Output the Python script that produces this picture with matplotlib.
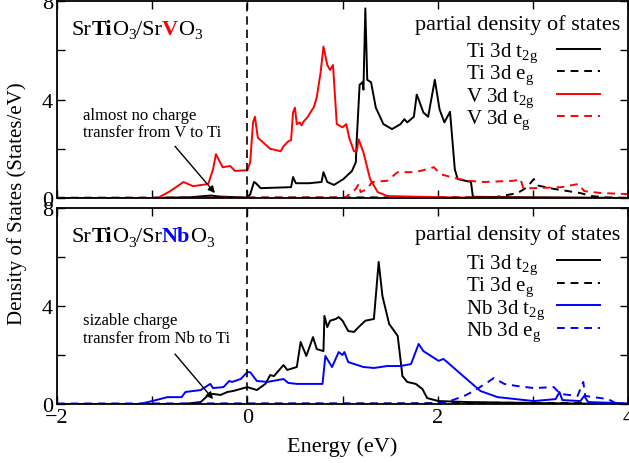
import matplotlib
matplotlib.use("Agg")
import matplotlib.pyplot as plt
from matplotlib.ticker import MultipleLocator

plt.rcParams["font.family"] = ["Liberation Serif", "DejaVu Serif"]
plt.rcParams["mathtext.fontset"] = "custom"
plt.rcParams["mathtext.rm"] = "Liberation Serif"
plt.rcParams["mathtext.it"] = "Liberation Serif:italic"
plt.rcParams["mathtext.bf"] = "Liberation Serif:bold"

# ---- SrTiO3/SrVO3 panel ----
e_ti_t2g_v = [-2, -1.0, -0.6, -0.45, -0.38, -0.3, -0.1, 0.0, 0.03, 0.07, 0.09, 0.14, 0.3, 0.46, 0.48,
              0.51, 0.65, 0.78, 0.8, 0.84, 0.91, 1.01, 1.1, 1.14, 1.15, 1.18, 1.21, 1.22, 1.24, 1.26,
              1.3, 1.35, 1.43, 1.52, 1.61, 1.65, 1.68, 1.75, 1.78, 1.8, 1.85, 1.9, 1.97, 2.02, 2.07,
              2.13, 2.18, 2.21, 2.29, 2.35, 2.37, 2.6, 3.0, 4.0]
d_ti_t2g_v = [0, 0, 0.03, 0.08, 0.1, 0.06, 0.03, 0.02, 0.15, 0.65, 0.6, 0.4, 0.42, 0.44, 0.85,
              0.6, 0.6, 0.65, 1.05, 0.65, 0.53, 0.77, 1.1, 1.45, 2.4, 4.6, 4.7, 4.4, 7.7, 4.8,
              4.7, 3.67, 3.0, 2.8, 3.0, 3.2, 3.07, 3.3, 4.2, 4.0, 3.47, 3.3, 4.8, 3.6, 3.07,
              3.5, 1.17, 0.77, 0.7, 0.65, 0.05, 0.04, 0.03, 0.0]

e_ti_eg_v = [-2, 2.6, 2.84, 2.94, 3.01, 3.06, 3.22, 3.37, 3.5, 3.61, 3.8, 4.0]
d_ti_eg_v = [0.01, 0.03, 0.2, 0.44, 0.77, 0.5, 0.37, 0.28, 0.2, 0.08, 0.02, 0.01]

e_v_t2g = [-2, -0.94, -0.81, -0.67, -0.57, -0.41, -0.36, -0.33, -0.26, -0.18, -0.13, 0.0, 0.03,
           0.06, 0.08, 0.11, 0.24, 0.35, 0.38, 0.43, 0.46, 0.48, 0.5, 0.52, 0.55, 0.57, 0.59,
           0.63, 0.7, 0.73, 0.77, 0.8, 0.84, 0.87, 0.9, 0.94, 1.0, 1.04, 1.07, 1.12, 1.15, 1.17,
           1.22, 1.29, 1.37, 1.47, 1.8, 2.2, 4.0]
d_v_t2g = [0, 0, 0.28, 0.65, 0.48, 0.57, 1.17, 1.78, 1.25, 1.3, 1.1, 1.13, 1.45,
           3.07, 3.3, 2.45, 2.0, 1.9, 2.1, 2.3, 2.35, 3.47, 3.67, 3.0, 3.07, 2.95, 3.1,
           3.27, 3.7, 4.1, 5.1, 6.15, 5.4, 5.2, 5.4, 3.0, 2.87, 3.0, 2.45, 1.9, 1.9, 2.38,
           1.85, 0.77, 0.24, 0.08, 0.05, 0.02, 0.0]

e_v_eg = [-2, 1.03, 1.14, 1.17, 1.19, 1.26, 1.31, 1.47, 1.58, 1.75, 1.82, 1.96, 2.03, 2.14, 2.31,
          2.49, 2.8, 2.87, 2.9, 3.01, 3.3, 3.48, 3.54, 3.72, 4.0]
d_v_eg = [0, 0.02, 0.37, 0.57, 0.24, 0.37, 0.65, 0.7, 1.05, 1.05, 1.1, 1.25, 0.97, 0.85, 0.7,
          0.65, 0.7, 0.77, 0.4, 0.4, 0.44, 0.57, 0.28, 0.2, 0.16]

# ---- SrTiO3/SrNbO3 panel ----
e_ti_t2g_nb = [-2, -0.67, -0.49, -0.42, -0.36, -0.28, -0.21, -0.15, 0.0, 0.1, 0.19, 0.24, 0.28,
               0.38, 0.42, 0.52, 0.56, 0.62, 0.69, 0.73, 0.8, 0.81, 0.84, 0.87, 0.93, 0.96, 1.0,
               1.06, 1.12, 1.17, 1.24, 1.33, 1.38, 1.42, 1.49, 1.58, 1.63, 1.68, 1.77, 1.84,
               1.89, 2.01, 2.31, 3.0, 4.0]
d_ti_t2g_nb = [0, 0, 0.08, 0.33, 0.41, 0.37, 0.49, 0.53, 0.69, 0.57, 0.82, 1.18, 1.14,
               1.59, 1.39, 1.51, 2.53, 1.96, 2.73, 2.24, 2.16, 3.6, 3.14, 3.4, 3.47, 3.55, 3.4,
               2.98, 2.94, 3.14, 3.4, 3.47, 5.8, 4.4, 3.27, 2.78, 1.14, 0.9, 0.82, 0.61,
               0.24, 0.12, 0.08, 0.04, 0.0]

e_ti_eg_nb = [-2, 1.5, 2.5, 3.5, 4.0]
d_ti_eg_nb = [0.0, 0.02, 0.05, 0.04, 0.02]

e_nb_t2g = [-2, -1.13, -1.0, -0.84, -0.69, -0.65, -0.57, -0.49, -0.39, -0.36, -0.25, -0.19, -0.16,
            -0.07, 0.0, 0.03, 0.1, 0.21, 0.38, 0.43, 0.52, 0.79, 0.82, 0.89, 0.96, 1.0, 1.02,
            1.06, 1.22, 1.33, 1.47, 1.61, 1.72, 1.8, 1.85, 2.01, 2.06, 2.1, 2.28, 2.45, 2.63,
            3.01, 3.24, 3.28, 3.31, 3.5, 3.54, 3.58, 3.89, 4.0]
d_nb_t2g = [0, 0, 0.12, 0.28, 0.28, 0.49, 0.53, 0.57, 0.82, 0.65, 0.69, 0.94, 0.9,
            1.02, 1.3, 1.3, 0.94, 0.9, 1.02, 0.86, 0.82, 0.82, 1.96, 1.51, 2.12, 2.0, 2.12,
            1.71, 1.51, 1.47, 1.55, 1.55, 1.63, 2.45, 2.16, 1.76, 1.84, 1.71, 1.1, 0.53, 0.28,
            0.12, 0.2, 0.49, 0.16, 0.12, 0.33, 0.08, 0.04, 0.0]

e_nb_eg = [-2, 2.0, 2.1, 2.28, 2.38, 2.53, 2.59, 2.7, 2.84, 3.01, 3.22, 3.26, 3.29, 3.47, 3.53,
           3.55, 3.64, 3.79, 3.87, 4.0]
d_nb_eg = [0.02, 0.02, 0.08, 0.33, 0.53, 0.9, 1.06, 0.82, 0.73, 0.65, 0.69, 0.53, 0.41, 0.33, 0.9,
           0.33, 0.28, 0.2, 0.04, 0.02]

labels_v = [r"Ti 3d t$_\mathrm{2g}$", r"Ti 3d e$_\mathrm{g}$",
            r"V 3d t$_\mathrm{2g}$", r"V 3d e$_\mathrm{g}$"]
labels_nb = [r"Ti 3d t$_\mathrm{2g}$", r"Ti 3d e$_\mathrm{g}$",
             r"Nb 3d t$_\mathrm{2g}$", r"Nb 3d e$_\mathrm{g}$"]

RED = "#ff0000"
BLUE = "#0000ff"
LW = 1.4
DASH = (0, (4, 3))
FS = 16

fig = plt.figure(figsize=(6.29, 4.64), dpi=100)
W, H = 629.0, 464.0
ax1 = fig.add_axes([57 / W, (H - 199) / H, 571 / W, 197 / H])
ax2 = fig.add_axes([57 / W, (H - 405) / H, 571 / W, 196 / H])


def style_axis(ax, show_xlabels):
    ax.set_xlim(-2, 4)
    ax.set_ylim(0, 8)
    ax.xaxis.set_major_locator(MultipleLocator(2))
    ax.xaxis.set_minor_locator(MultipleLocator(1))
    ax.yaxis.set_major_locator(MultipleLocator(4))
    ax.yaxis.set_minor_locator(MultipleLocator(2))
    ax.tick_params(which="both", direction="in", top=True, right=True, width=1.0,
                   labelsize=FS, pad=3, length=6)
    if not show_xlabels:
        ax.tick_params(labelbottom=False)
    for sp in ax.spines.values():
        sp.set_linewidth(1.3)
    ax.axvline(0, color="black", lw=1.2, ls=(0, (5, 3)))


def material_label(ax, pieces, x, y):
    # chain text pieces so bold/colour/subscript parts sit next to each other
    prev = None
    prev_dy = 0
    for txt, weight, color, size, dy in pieces:
        if prev is None:
            prev = ax.text(x, y, txt, transform=ax.transAxes, fontsize=size,
                           fontweight=weight, color=color, va="baseline", ha="left")
        else:
            prev = ax.annotate(txt, xy=(1, 0), xycoords=prev, xytext=(0, dy - prev_dy),
                               textcoords="offset points", fontsize=size, fontweight=weight,
                               color=color, va="bottom", ha="left")
        prev_dy = dy


# top panel
ax1.plot(e_ti_t2g_v, d_ti_t2g_v, color="black", lw=LW, label=labels_v[0])
ax1.plot(e_ti_eg_v, d_ti_eg_v, color="black", lw=LW, ls=DASH, label=labels_v[1])
ax1.plot(e_v_t2g, d_v_t2g, color=RED, lw=LW, label=labels_v[2])
ax1.plot(e_v_eg, d_v_eg, color=RED, lw=LW, ls=DASH, label=labels_v[3])
style_axis(ax1, False)

# bottom panel
ax2.plot(e_ti_t2g_nb, d_ti_t2g_nb, color="black", lw=LW, label=labels_nb[0])
ax2.plot(e_ti_eg_nb, d_ti_eg_nb, color="black", lw=LW, ls=DASH, label=labels_nb[1])
ax2.plot(e_nb_t2g, d_nb_t2g, color=BLUE, lw=LW, label=labels_nb[2])
ax2.plot(e_nb_eg, d_nb_eg, color=BLUE, lw=LW, ls=DASH, label=labels_nb[3])
style_axis(ax2, True)

legends = []
for ax, ytitle, yleg in ((ax1, 0.883, 0.80), (ax2, 0.868, 0.775)):
    ax.text(0.986, ytitle, "partial density of states", transform=ax.transAxes,
            fontsize=FS, ha="right", va="center")
    legends.append(ax.legend(loc="upper right", bbox_to_anchor=(0.951, yleg), frameon=False,
                             markerfirst=False, fontsize=15, handlelength=2.05,
                             handletextpad=1.0, labelspacing=-0.05, borderaxespad=0,
                             borderpad=0))

material_label(ax1, [("Sr", "normal", "black", FS, 0), ("Ti", "bold", "black", FS, 0),
                     ("O", "normal", "black", FS, 0), ("3", "normal", "black", 11, -2),
                     ("/Sr", "normal", "black", FS, 0), ("V", "bold", RED, FS, 0),
                     ("O", "normal", "black", FS, 0), ("3", "normal", "black", 11, -2)],
               0.026, 0.835)
material_label(ax2, [("Sr", "normal", "black", FS, 0), ("Ti", "bold", "black", FS, 0),
                     ("O", "normal", "black", FS, 0), ("3", "normal", "black", 11, -2),
                     ("/Sr", "normal", "black", FS, 0), ("Nb", "bold", BLUE, FS, 0),
                     ("O", "normal", "black", FS, 0), ("3", "normal", "black", 11, -2)],
               0.026, 0.83)

# annotations with arrows
ax1.text(-1.73, 2.34, "almost no charge\ntransfer from V to Ti", fontsize=12,
         va="bottom", ha="left", linespacing=1.15)
ax1.annotate("", xy=(-0.34, 0.2), xytext=(-0.76, 2.1),
             arrowprops=dict(arrowstyle="-|>", color="black", lw=1.0,
                             mutation_scale=10, shrinkA=0, shrinkB=0))
ax2.text(-1.73, 2.37, "sizable charge\ntransfer from Nb to Ti", fontsize=12,
         va="bottom", ha="left", linespacing=1.15)
ax2.annotate("", xy=(-0.36, 0.2), xytext=(-0.76, 2.04),
             arrowprops=dict(arrowstyle="-|>", color="black", lw=1.0,
                             mutation_scale=10, shrinkA=0, shrinkB=0))

fig.text(17 / W, 1 - 204 / H, "Density of States (States/eV)", rotation=90,
         fontsize=15, ha="center", va="center")
fig.text(342 / W, 1 - 447 / H, "Energy (eV)", fontsize=FS, ha="center", va="center")

# legend labels are left aligned at the same x in both panels of the original:
# redraw them from that left edge, keeping the legend's own row heights
LABEL_LEFT = 466.0
fig.canvas.draw()
renderer = fig.canvas.get_renderer()
for leg in legends:
    for t in leg.get_texts():
        b = t.get_window_extent(renderer)
        fig.text(LABEL_LEFT / fig.bbox.width, b.y0 / fig.bbox.height, t.get_text(),
                 fontsize=15, ha="left", va="bottom")
        t.set_visible(False)

fig.savefig("out.png", dpi=100)
